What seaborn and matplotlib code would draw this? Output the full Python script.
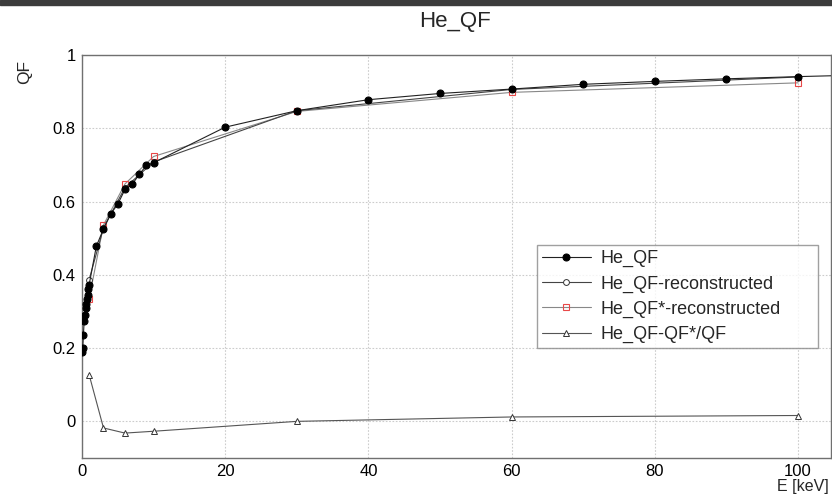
import matplotlib
matplotlib.use("Agg")
import matplotlib.pyplot as plt
import matplotlib.patches as mpatches
from matplotlib.ticker import MultipleLocator, FixedLocator
import seaborn as sns

# ---- data ----
qf_E = [0.05, 0.1, 0.2, 0.3, 0.4, 0.5, 0.6, 0.7, 0.8, 0.9, 1.0,
        2, 3, 4, 5, 6, 7, 8, 9, 10, 20, 30, 40, 50, 60, 70, 80, 90, 100, 110]
qf_val = [0.190, 0.200, 0.237, 0.273, 0.290, 0.310, 0.320, 0.333, 0.346, 0.360, 0.373,
          0.478, 0.525, 0.566, 0.593, 0.633, 0.647, 0.674, 0.699, 0.706,
          0.803, 0.848, 0.878, 0.895, 0.907, 0.920, 0.928, 0.935, 0.941, 0.946]

rec_E = [1, 3, 6, 10, 30, 60, 100]
rec_val = [0.387, 0.528, 0.638, 0.708, 0.848, 0.906, 0.940]

recstar_E = [1, 3, 6, 10, 30, 60, 100]
recstar_val = [0.335, 0.536, 0.648, 0.723, 0.846, 0.898, 0.924]

ratio_E = [1, 3, 6, 10, 30, 60, 100]
ratio_val = [0.127, -0.018, -0.032, -0.027, 0.000, 0.012, 0.016]

labels = ["He_QF", "He_QF-reconstructed", "He_QF*-reconstructed", "He_QF-QF*/QF"]
title = "He_QF"
xlabel = "E [keV]"
ylabel = "QF"

# ---- style ----
sns.set_style("white")
plt.rcParams["font.family"] = ["Liberation Sans", "DejaVu Sans"]

W, H = 832, 496
fig = plt.figure(figsize=(W / 100, H / 100), dpi=100)
ax = fig.add_axes([82 / W, 1 - 458 / H, 749 / W, 403 / H])

# dark strip on top
fig.patches.append(mpatches.Rectangle((0, 1 - 5 / H), 1, 5 / H, transform=fig.transFigure,
                                      color="#3c3c3c", zorder=10))

sns.lineplot(x=qf_E, y=qf_val, ax=ax, estimator=None, sort=False,
             color="#222222", linewidth=0.8, marker="o", markersize=5.0,
             markerfacecolor="black", markeredgecolor="black", markeredgewidth=0.8,
             label=labels[0], zorder=5)
sns.lineplot(x=rec_E, y=rec_val, ax=ax, estimator=None, sort=False,
             color="#444444", linewidth=0.8, marker="o", markersize=4.2,
             markerfacecolor="white", markeredgecolor="#333333", markeredgewidth=0.7,
             label=labels[1], zorder=4)
sns.lineplot(x=recstar_E, y=recstar_val, ax=ax, estimator=None, sort=False,
             color="#888888", linewidth=0.8, marker="s", markersize=4.8,
             markerfacecolor="none", markeredgecolor="#e84848", markeredgewidth=0.8,
             label=labels[2], zorder=3)
sns.lineplot(x=ratio_E, y=ratio_val, ax=ax, estimator=None, sort=False,
             color="#555555", linewidth=0.8, marker="^", markersize=5,
             markerfacecolor="white", markeredgecolor="#333333", markeredgewidth=0.7,
             label=labels[3], zorder=4)

ax.set_xlim(0, 104.6)
ax.set_ylim(-0.1, 1.0)

ax.xaxis.set_major_locator(FixedLocator([0, 20, 40, 60, 80, 100]))
ax.xaxis.set_minor_locator(MultipleLocator(5))
ax.yaxis.set_major_locator(FixedLocator([0, 0.2, 0.4, 0.6, 0.8, 1.0]))
ax.yaxis.set_minor_locator(MultipleLocator(0.05))
ax.set_xticklabels(["0", "20", "40", "60", "80", "100"])
ax.set_yticklabels(["0", "0.2", "0.4", "0.6", "0.8", "1"])

ax.tick_params(axis="both", which="both", direction="in", colors="#999999",
               labelcolor="black", labelsize=12, width=0.8)
ax.tick_params(axis="x", which="major", length=12, pad=4)
ax.tick_params(axis="x", which="minor", length=6)
ax.tick_params(axis="y", which="major", length=11, pad=4.5)
ax.tick_params(axis="y", which="minor", length=11)

ax.grid(True, which="major", linestyle=(0, (1.5, 1.5)), color="#cccccc", linewidth=0.8)
for s in ax.spines.values():
    s.set_color("#707070")
    s.set_linewidth(1.0)
    s.set_visible(True)
ax.set_axisbelow(True)

ax.set_xlabel("")
ax.set_ylabel("")
fig.text(829 / W, 1 - 486 / H, xlabel, ha="right", va="center", fontsize=11.5)
fig.text(25 / W, 1 - 60 / H, ylabel, ha="center", va="top", rotation=90, fontsize=12.5)
fig.text(455 / W, 1 - 21 / H, title, ha="center", va="center", fontsize=16)

x0 = (537 - 82) / 749
x1 = (818 - 82) / 749
ytop = (458 - 245) / 403
ybot = (458 - 349) / 403
leg = ax.legend(loc="upper left", bbox_to_anchor=(x0, ybot, x1 - x0, ytop - ybot),
                mode="expand", borderaxespad=0, fancybox=False, frameon=True,
                fontsize=13, handlelength=2.7, handletextpad=0.55, labelspacing=0.45,
                borderpad=0.28)
leg.get_frame().set_edgecolor("#888888")
leg.get_frame().set_linewidth(1.0)

fig.savefig("out.png", dpi=100, facecolor="white")
